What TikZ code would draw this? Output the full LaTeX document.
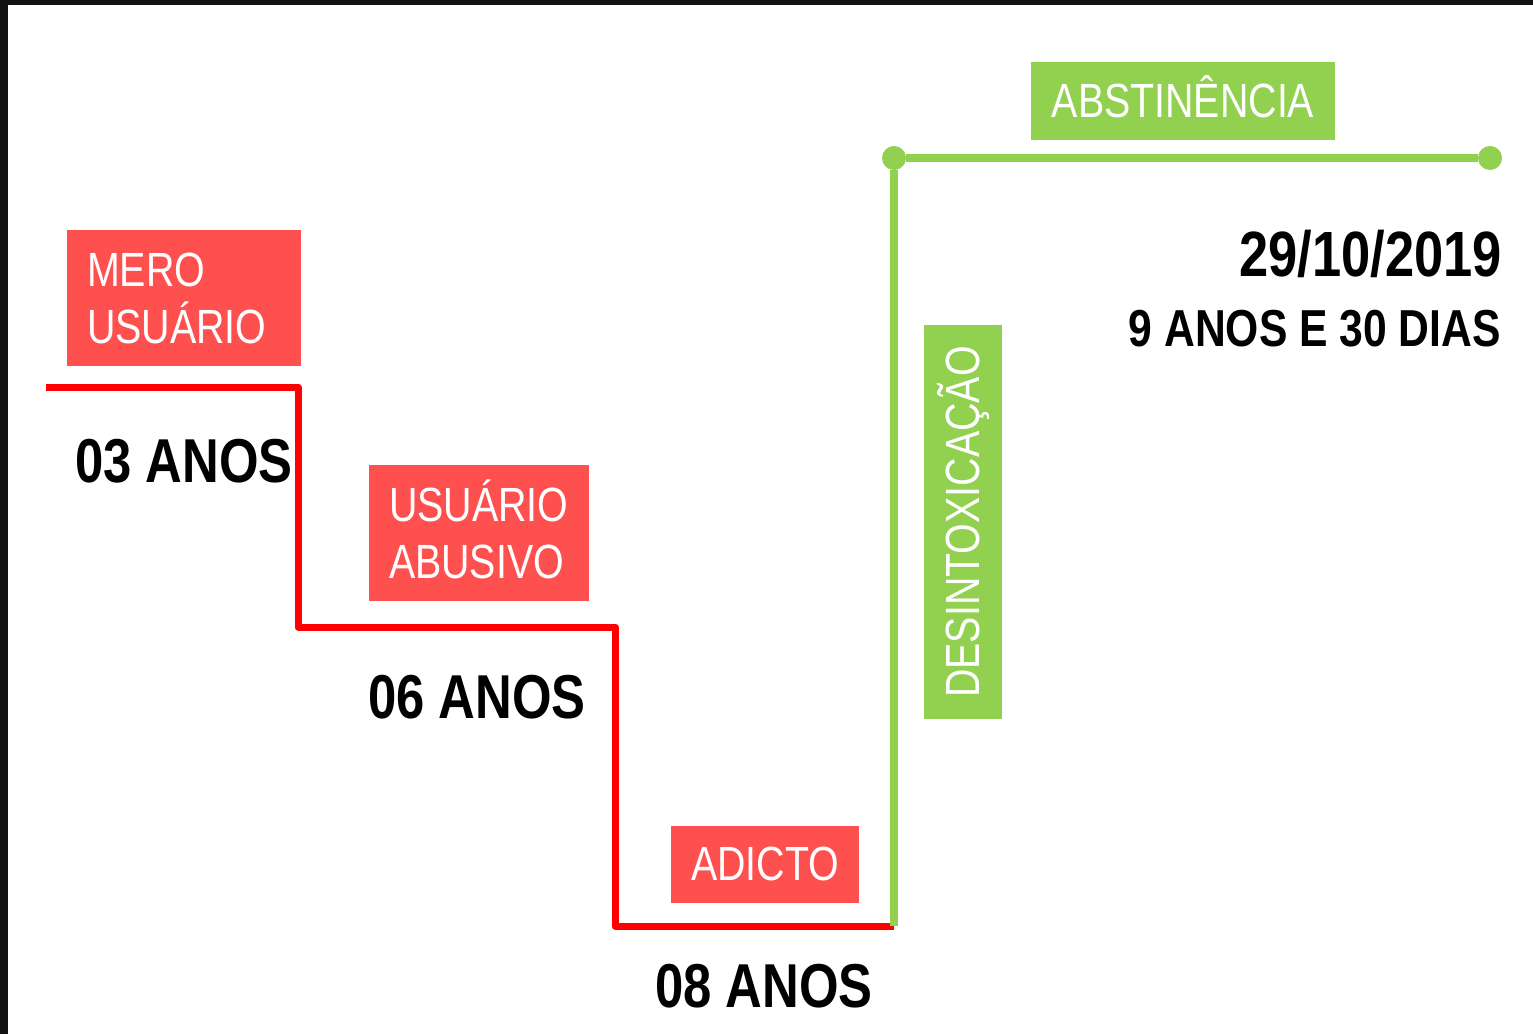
\documentclass[tikz,border=0pt]{standalone}
\usepackage{fontspec}
\setmainfont{Liberation Sans}
\newfontfamily\narrow[FakeStretch=0.82]{Liberation Sans}
\definecolor{stagered}{HTML}{FF5050}
\definecolor{phasegreen}{HTML}{92D050}
\definecolor{frame}{HTML}{121212}
\begin{document}
\begin{tikzpicture}[x=1pt,y=-1pt]
    \tikzset{stage/.style = {fill=stagered, text=white, align=left, inner xsep=20pt, inner ysep=0pt, minimum height=136pt, font=\narrow\fontsize{48}{57}\selectfont}}
    \tikzset{phase/.style = {fill=phasegreen, text=white, inner sep=0pt, font=\narrow\fontsize{48}{57}\selectfont}}
    \tikzset{years/.style = {inner sep=0pt, anchor=base, font=\narrow\bfseries\fontsize{62}{62}\selectfont}}
    \tikzset{redline/.style = {draw=red, line width=7pt, line join=round}}
    \tikzset{greenline/.style = {draw=phasegreen, line width=8pt}}
    \tikzset{dot/.style = {shape=circle, fill=phasegreen, inner sep=0pt, minimum size=24pt}}
    % page and dark frame
    \useasboundingbox (0,0) rectangle (1533,1034);
    \fill[white] (0,0) rectangle (1533,1034);
    \fill[frame] (0,0) rectangle (1533,5);
    \fill[frame] (0,0) rectangle (8,1034);
    % stages going down
    \node[stage, text width=194pt] (mero) at (184,298) {MERO\\USU\smash{Á}RIO};
    \node[stage, text width=180pt] (abusivo) at (479,533) {USU\smash{Á}RIO\\ABUSIVO};
    \node[stage, minimum width=188pt, minimum height=77pt, align=center, inner xsep=0pt] (adicto) at (765,864) {ADICTO};
    % years under each stage
    \node[years] (y03) at (184,482) {03 ANOS};
    \node[years] (y06) at (477,718) {06 ANOS};
    \node[years] (y08) at (764,1007) {08 ANOS};
    % red steps
    \coordinate (r0) at (46,387);
    \coordinate (r1) at (298,627);
    \coordinate (r2) at (615,926);
    \coordinate (r3) at (894,926);
    \draw[redline] (r0) -| (r1) -| (r2) -- (r3);
    % green way up
    \node[dot] (g1) at (894,158) {};
    \node[dot] (g2) at (1490,158) {};
    \draw[greenline] (r3) -- (g1) -- (g2);
    \node[phase, rotate=90, minimum width=394pt, minimum height=78pt] (desintox) at (963,522) {DESINTOXICA\smash{ÇÃ}O};
    \node[phase, minimum width=304pt, minimum height=78pt] (abstinencia) at (1183,101) {ABSTIN\smash{Ê}NCIA};
    % date and total time
    \node[inner sep=0pt, anchor=base east, font=\narrow\bfseries\fontsize{64}{64}\selectfont] (data) at (1502,276) {29/10/2019};
    \node[inner sep=0pt, anchor=base east, font=\narrow\bfseries\fontsize{52}{52}\selectfont] (total) at (1501,346) {9 ANOS E 30 DIAS};
\end{tikzpicture}
\end{document}
